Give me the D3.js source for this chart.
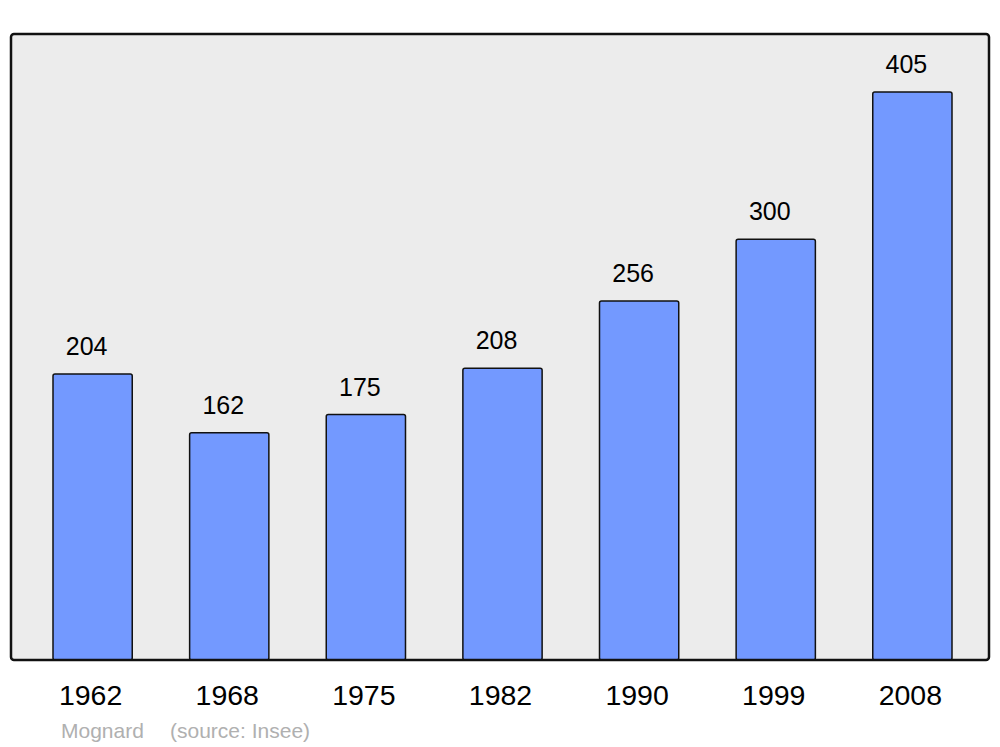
<!DOCTYPE html>
<html><head><meta charset="utf-8">
<script src="https://cdn.jsdelivr.net/npm/d3@7"></script>
<style>body{margin:0;background:#fff}svg{display:block}</style>
</head><body>
<script>
const years = ["1962","1968","1975","1982","1990","1999","2008"];
const population = [204,162,175,208,256,300,405];
const author = "Mognard";
const source = "(source: Insee)";

const W = 1000, H = 747;
const svg = d3.select("body").append("svg").attr("width", W).attr("height", H)
  .style("font-family", "'Liberation Sans', Arial, sans-serif");

const frame = {x0: 11, x1: 989, y0: 34, y1: 660};
svg.append("rect").attr("x", frame.x0).attr("y", frame.y0)
  .attr("width", frame.x1 - frame.x0).attr("height", frame.y1 - frame.y0)
  .attr("rx", 3).attr("fill", "#ececec");

const x = d3.scaleBand().domain(years).range([53, 952]).paddingInner(0.42).paddingOuter(0);
const y = d3.scaleLinear().domain([0, 405]).range([660, 92]);

const g = svg.append("g");
g.selectAll("rect.bar").data(years).join("rect").attr("class","bar")
  .attr("x", d => x(d)).attr("y", (d,i) => y(population[i]))
  .attr("width", x.bandwidth()).attr("height", (d,i) => y(0) - y(population[i]))
  .attr("rx", 2).attr("fill", "#7399ff").attr("stroke", "#111").attr("stroke-width", 1.5);

svg.append("rect").attr("x", frame.x0).attr("y", frame.y0)
  .attr("width", frame.x1 - frame.x0).attr("height", frame.y1 - frame.y0)
  .attr("rx", 3).attr("fill", "none").attr("stroke", "#111").attr("stroke-width", 2.5);

g.selectAll("text.val").data(years).join("text").attr("class","val")
  .attr("x", d => x(d) + x.bandwidth()/2 - 6).attr("y", (d,i) => y(population[i]) - 19)
  .attr("text-anchor", "middle").attr("font-size", 25).attr("fill", "#000")
  .text((d,i) => population[i]);

g.selectAll("text.yr").data(years).join("text").attr("class","yr")
  .attr("x", d => x(d) + x.bandwidth()/2 - 2).attr("y", 705)
  .attr("text-anchor", "middle").attr("font-size", 28.5).attr("fill", "#000")
  .text(d => d);

svg.append("text").attr("x", 61).attr("y", 738).attr("font-size", 21).attr("fill", "#b0b0b0").text(author);
svg.append("text").attr("x", 170).attr("y", 738).attr("font-size", 21).attr("fill", "#b0b0b0").text(source);
</script>
</body></html>
